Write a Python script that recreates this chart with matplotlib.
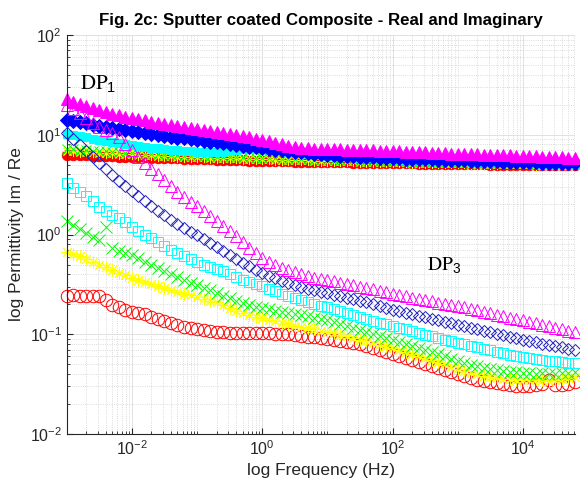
"""Fig. 2c : permittivité réelle et imaginaire du composite revêtu par pulvérisation."""

import matplotlib

matplotlib.use("Agg")
import matplotlib.pyplot as plt
import numpy as np
from matplotlib.ticker import LogLocator, NullFormatter

# log10 de la fréquence (Hz), un point par dixième de décade
log_freq = [
    -3.0, -2.9, -2.8, -2.7, -2.6, -2.5, -2.4, -2.3, -2.2, -2.1,
    -2.0, -1.9, -1.8, -1.7, -1.6, -1.5, -1.4, -1.3, -1.2, -1.1,
    -1.0, -0.9, -0.8, -0.7, -0.6, -0.5, -0.4, -0.3, -0.2, -0.1,
    0.0, 0.1, 0.2, 0.3, 0.4, 0.5, 0.6, 0.7, 0.8, 0.9,
    1.0, 1.1, 1.2, 1.3, 1.4, 1.5, 1.6, 1.7, 1.8, 1.9,
    2.0, 2.1, 2.2, 2.3, 2.4, 2.5, 2.6, 2.7, 2.8, 2.9,
    3.0, 3.1, 3.2, 3.3, 3.4, 3.5, 3.6, 3.7, 3.8, 3.9,
    4.0, 4.1, 4.2, 4.3, 4.4, 4.5, 4.6, 4.7, 4.8,
]

# log10 de la permittivité, partie réelle (marqueurs pleins)
re_magenta = [
    1.36, 1.33, 1.31, 1.29, 1.27, 1.25, 1.23, 1.21, 1.20, 1.18,
    1.17, 1.16, 1.15, 1.13, 1.12, 1.11, 1.10, 1.09, 1.08, 1.07,
    1.06, 1.05, 1.04, 1.03, 1.02, 1.01, 1.00, 0.99, 0.98, 0.96,
    0.95, 0.94, 0.92, 0.91, 0.89, 0.88, 0.87, 0.87, 0.86, 0.86,
    0.86, 0.86, 0.86, 0.85, 0.85, 0.85, 0.85, 0.85, 0.84, 0.84,
    0.84, 0.84, 0.83, 0.83, 0.83, 0.83, 0.82, 0.82, 0.82, 0.81,
    0.81, 0.81, 0.81, 0.81, 0.80, 0.80, 0.80, 0.80, 0.80, 0.79,
    0.79, 0.79, 0.79, 0.78, 0.78, 0.78, 0.78, 0.77, 0.77,
]
re_blue = [
    1.15, 1.14, 1.13, 1.12, 1.10, 1.09, 1.08, 1.07, 1.06, 1.05,
    1.04, 1.03, 1.02, 1.01, 1.00, 0.99, 0.98, 0.97, 0.97, 0.96,
    0.95, 0.94, 0.93, 0.93, 0.92, 0.91, 0.90, 0.89, 0.88, 0.88,
    0.87, 0.86, 0.85, 0.85, 0.84, 0.83, 0.83, 0.82, 0.81, 0.81,
    0.80, 0.80, 0.79, 0.79, 0.79, 0.78, 0.78, 0.78, 0.77, 0.77,
    0.77, 0.77, 0.76, 0.76, 0.76, 0.76, 0.76, 0.75, 0.75, 0.75,
    0.75, 0.75, 0.74, 0.74, 0.74, 0.74, 0.74, 0.73, 0.73, 0.73,
    0.73, 0.73, 0.73, 0.72, 0.72, 0.72, 0.72, 0.72, 0.72,
]
re_cyan = [
    1.01, 1.00, 0.99, 0.98, 0.96, 0.95, 0.94, 0.93, 0.92, 0.91,
    0.90, 0.89, 0.88, 0.87, 0.87, 0.86, 0.85, 0.85, 0.84, 0.84,
    0.83, 0.83, 0.83, 0.83, 0.83, 0.84, 0.85, 0.86, 0.86, 0.86,
    0.86, 0.85, 0.84, 0.84, 0.83, 0.82, 0.82, 0.81, 0.80, 0.80,
    0.79, 0.79, 0.78, 0.78, 0.78, 0.77, 0.77, 0.77, 0.76, 0.76,
    0.76, 0.76, 0.75, 0.75, 0.75, 0.75, 0.75, 0.74, 0.74, 0.74,
    0.74, 0.74, 0.73, 0.73, 0.73, 0.73, 0.73, 0.72, 0.72, 0.72,
    0.72, 0.72, 0.72, 0.71, 0.71, 0.71, 0.71, 0.71, 0.71,
]
re_green = [
    0.86, 0.86, 0.85, 0.85, 0.84, 0.84, 0.84, 0.83, 0.83, 0.82,
    0.82, 0.82, 0.81, 0.81, 0.81, 0.80, 0.80, 0.80, 0.79, 0.79,
    0.79, 0.79, 0.79, 0.78, 0.78, 0.78, 0.78, 0.78, 0.77, 0.77,
    0.77, 0.77, 0.77, 0.76, 0.76, 0.76, 0.76, 0.76, 0.75, 0.75,
    0.75, 0.75, 0.75, 0.75, 0.75, 0.74, 0.74, 0.74, 0.74, 0.74,
    0.74, 0.74, 0.74, 0.73, 0.73, 0.73, 0.73, 0.73, 0.73, 0.73,
    0.73, 0.73, 0.72, 0.72, 0.72, 0.72, 0.72, 0.72, 0.72, 0.72,
    0.72, 0.72, 0.71, 0.71, 0.71, 0.71, 0.71, 0.71, 0.71,
]
re_yellow = [
    0.84, 0.84, 0.83, 0.83, 0.83, 0.82, 0.82, 0.82, 0.81, 0.81,
    0.81, 0.80, 0.80, 0.80, 0.79, 0.79, 0.79, 0.78, 0.78, 0.78,
    0.78, 0.78, 0.77, 0.77, 0.77, 0.77, 0.77, 0.76, 0.76, 0.76,
    0.76, 0.76, 0.75, 0.75, 0.75, 0.75, 0.75, 0.75, 0.74, 0.74,
    0.74, 0.74, 0.74, 0.74, 0.74, 0.73, 0.73, 0.73, 0.73, 0.73,
    0.73, 0.73, 0.73, 0.72, 0.72, 0.72, 0.72, 0.72, 0.72, 0.72,
    0.72, 0.72, 0.71, 0.71, 0.71, 0.71, 0.71, 0.71, 0.71, 0.71,
    0.71, 0.71, 0.70, 0.70, 0.70, 0.70, 0.70, 0.70, 0.70,
]
re_red = [
    0.80, 0.80, 0.80, 0.80, 0.79, 0.79, 0.79, 0.79, 0.78, 0.78,
    0.78, 0.78, 0.78, 0.77, 0.77, 0.77, 0.77, 0.77, 0.76, 0.76,
    0.76, 0.76, 0.76, 0.75, 0.75, 0.75, 0.75, 0.75, 0.74, 0.74,
    0.74, 0.74, 0.74, 0.74, 0.74, 0.73, 0.73, 0.73, 0.73, 0.73,
    0.73, 0.73, 0.73, 0.73, 0.72, 0.72, 0.72, 0.72, 0.72, 0.72,
    0.72, 0.72, 0.72, 0.72, 0.71, 0.71, 0.71, 0.71, 0.71, 0.71,
    0.71, 0.71, 0.71, 0.71, 0.71, 0.70, 0.70, 0.70, 0.70, 0.70,
    0.70, 0.70, 0.70, 0.70, 0.70, 0.70, 0.70, 0.70, 0.70,
]

# log10 de la permittivité, partie imaginaire (marqueurs vides)
im_magenta = [
    1.30, 1.26, 1.22, 1.17, 1.12, 1.08, 1.05, 1.02, 0.98, 0.91,
    0.85, 0.78, 0.72, 0.66, 0.61, 0.55, 0.49, 0.43, 0.38, 0.33,
    0.29, 0.24, 0.19, 0.14, 0.09, 0.04, -0.02, -0.08, -0.14, -0.19,
    -0.24, -0.28, -0.31, -0.34, -0.36, -0.38, -0.40, -0.42, -0.44, -0.45,
    -0.46, -0.47, -0.49, -0.50, -0.51, -0.53, -0.54, -0.55, -0.57, -0.58,
    -0.60, -0.61, -0.62, -0.64, -0.65, -0.66, -0.67, -0.69, -0.70, -0.71,
    -0.72, -0.73, -0.75, -0.76, -0.78, -0.79, -0.81, -0.82, -0.84, -0.85,
    -0.86, -0.88, -0.89, -0.91, -0.92, -0.94, -0.95, -0.97, -0.98,
]
im_blue = [
    1.02, 0.96, 0.90, 0.84, 0.78, 0.72, 0.66, 0.60, 0.54, 0.49,
    0.44, 0.39, 0.34, 0.29, 0.24, 0.20, 0.15, 0.11, 0.07, 0.03,
    -0.01, -0.05, -0.09, -0.13, -0.17, -0.21, -0.25, -0.29, -0.32, -0.36,
    -0.39, -0.42, -0.44, -0.47, -0.49, -0.51, -0.53, -0.55, -0.56, -0.58,
    -0.59, -0.61, -0.62, -0.64, -0.65, -0.67, -0.68, -0.70, -0.72, -0.74,
    -0.76, -0.77, -0.79, -0.80, -0.82, -0.83, -0.85, -0.86, -0.88, -0.89,
    -0.91, -0.92, -0.94, -0.95, -0.97, -0.98, -1.00, -1.01, -1.03, -1.04,
    -1.06, -1.07, -1.08, -1.10, -1.11, -1.12, -1.13, -1.15, -1.16,
]
im_cyan = [
    0.52, 0.47, 0.43, 0.39, 0.34, 0.28, 0.24, 0.20, 0.17, 0.13,
    0.08, 0.04, -0.01, -0.04, -0.08, -0.12, -0.16, -0.19, -0.22, -0.25,
    -0.28, -0.31, -0.33, -0.35, -0.37, -0.40, -0.43, -0.46, -0.48, -0.50,
    -0.52, -0.55, -0.57, -0.60, -0.62, -0.64, -0.66, -0.68, -0.70, -0.72,
    -0.73, -0.75, -0.77, -0.79, -0.81, -0.83, -0.85, -0.87, -0.89, -0.90,
    -0.92, -0.94, -0.95, -0.97, -0.99, -1.01, -1.02, -1.04, -1.06, -1.07,
    -1.09, -1.10, -1.12, -1.13, -1.15, -1.16, -1.18, -1.19, -1.21, -1.22,
    -1.23, -1.24, -1.25, -1.26, -1.27, -1.27, -1.28, -1.29, -1.29,
]
im_green = [
    0.14, 0.10, 0.06, 0.02, -0.03, -0.06, 0.08, -0.14, -0.17, -0.19,
    -0.21, -0.24, -0.28, -0.31, -0.34, -0.37, -0.40, -0.43, -0.46, -0.49,
    -0.51, -0.54, -0.56, -0.59, -0.62, -0.64, -0.67, -0.69, -0.71, -0.73,
    -0.74, -0.75, -0.77, -0.78, -0.79, -0.80, -0.81, -0.82, -0.84, -0.85,
    -0.86, -0.88, -0.90, -0.92, -0.94, -0.96, -0.98, -1.00, -1.02, -1.04,
    -1.06, -1.08, -1.10, -1.12, -1.14, -1.16, -1.18, -1.20, -1.22, -1.25,
    -1.27, -1.29, -1.31, -1.32, -1.34, -1.35, -1.36, -1.37, -1.38, -1.38,
    -1.39, -1.39, -1.40, -1.39, -1.40, -1.40, -1.39, -1.39, -1.38,
]
im_yellow = [
    -0.18, -0.20, -0.22, -0.25, -0.28, -0.31, -0.33, -0.36, -0.39, -0.41,
    -0.44, -0.46, -0.48, -0.50, -0.52, -0.54, -0.56, -0.58, -0.60, -0.61,
    -0.63, -0.65, -0.67, -0.68, -0.71, -0.74, -0.77, -0.79, -0.81, -0.83,
    -0.84, -0.86, -0.87, -0.89, -0.90, -0.92, -0.93, -0.94, -0.95, -0.97,
    -0.98, -0.99, -1.01, -1.02, -1.04, -1.06, -1.07, -1.09, -1.11, -1.12,
    -1.14, -1.16, -1.18, -1.20, -1.22, -1.24, -1.26, -1.28, -1.30, -1.33,
    -1.35, -1.37, -1.39, -1.40, -1.42, -1.43, -1.44, -1.45, -1.45, -1.46,
    -1.46, -1.46, -1.45, -1.46, -1.47, -1.46, -1.45, -1.44, -1.43,
]
im_red = [
    -0.62, -0.61, -0.62, -0.62, -0.62, -0.62, -0.66, -0.71, -0.73, -0.76,
    -0.78, -0.79, -0.80, -0.83, -0.85, -0.87, -0.89, -0.91, -0.93, -0.94,
    -0.95, -0.96, -0.97, -0.98, -0.98, -0.99, -0.99, -0.99, -0.99, -0.99,
    -0.99, -0.99, -1.00, -1.00, -1.00, -1.01, -1.02, -1.03, -1.03, -1.04,
    -1.05, -1.06, -1.07, -1.08, -1.09, -1.10, -1.12, -1.14, -1.16, -1.18,
    -1.20, -1.22, -1.24, -1.26, -1.28, -1.30, -1.32, -1.34, -1.36, -1.38,
    -1.40, -1.42, -1.44, -1.46, -1.47, -1.48, -1.49, -1.50, -1.51, -1.52,
    -1.52, -1.52, -1.51, -1.50, -1.46, -1.51, -1.51, -1.50, -1.48,
]

x_ticks = [1e-2, 1e0, 1e2, 1e4]
y_ticks = [1e-2, 1e-1, 1e0, 1e1, 1e2]

plt.rcParams["font.family"] = ["Liberation Sans", "DejaVu Sans"]
plt.rcParams["mathtext.default"] = "regular"

ASTERISK = (8, 2, 0)
# (valeurs, couleur, marqueur, taille, plein)
real_series = [
    (re_red, "#ff0000", "o", 7.5, True),
    (re_yellow, "#ffff00", ASTERISK, 8.0, True),
    (re_green, "#00ff00", "x", 7.5, True),
    (re_cyan, "#00ffff", "s", 6.0, True),
    (re_blue, "#0000ff", "D", 6.8, True),
    (re_magenta, "#ff00ff", "^", 9.0, True),
]
imag_series = [
    (im_red, "#ff0000", "o", 9.0, False),
    (im_yellow, "#ffff00", ASTERISK, 8.5, False),
    (im_green, "#00ff00", "x", 8.0, False),
    (im_cyan, "#00ffff", "s", 7.0, False),
    (im_blue, "#2020c0", "D", 6.5, False),
    (im_magenta, "#ff00ff", "^", 9.0, False),
]

fig = plt.figure(figsize=(5.8, 4.91), dpi=100)
ax = fig.add_axes([0.115, 0.1161, 0.8764, 0.8126])
ax.set_xscale("log")
ax.set_yscale("log")

freq = 10.0 ** np.array(log_freq)
for vals, color, marker, ms, filled in real_series + imag_series:
    ax.plot(
        freq,
        10.0 ** np.array(vals),
        linestyle="none",
        marker=marker,
        markersize=ms,
        markeredgecolor=color,
        markerfacecolor=color if filled else "none",
        markeredgewidth=0.7,
        clip_on=False,
    )

ax.set_xlim(1e-3, 10.0 ** 4.8)
ax.set_ylim(1e-2, 1e2)
ax.set_xticks(x_ticks)
ax.set_yticks(y_ticks)
ax.xaxis.set_minor_locator(LogLocator(base=10, subs=np.arange(1, 10), numticks=100))
ax.yaxis.set_minor_locator(LogLocator(base=10, subs=np.arange(2, 10), numticks=100))
ax.xaxis.set_minor_formatter(NullFormatter())
ax.yaxis.set_minor_formatter(NullFormatter())

ax.grid(True, which="major", color="#dcdcdc", linewidth=0.6)
ax.grid(True, which="minor", color="#cfcfcf", linestyle=":", linewidth=0.6)
ax.set_axisbelow(True)

for side in ("top", "right"):
    ax.spines[side].set_visible(False)
for side in ("left", "bottom"):
    ax.spines[side].set_color("#262626")
    ax.spines[side].set_linewidth(0.8)
ax.tick_params(which="both", direction="in", colors="#262626", labelsize=11.5)
ax.tick_params(which="major", length=4)
ax.tick_params(which="minor", length=2)

ax.set_title(
    "Fig. 2c: Sputter coated Composite - Real and Imaginary",
    fontsize=12.2, fontweight="bold", pad=7,
)
ax.set_xlabel("log Frequency (Hz)", fontsize=12.5, color="#262626")
ax.set_ylabel("log Permittivity Im / Re", fontsize=12.5, color="#262626")

ax.text(10.0 ** -2.8, 10.0 ** 1.45, r"$\mathrm{DP}_1$", fontsize=15,
        math_fontfamily="stix", ha="left", va="baseline")
ax.text(10.0 ** 2.53, 10.0 ** -0.36, r"$\mathrm{DP}_3$", fontsize=14,
        math_fontfamily="stix", ha="left", va="baseline")

fig.savefig("out.png", dpi=100)
plt.close(fig)
